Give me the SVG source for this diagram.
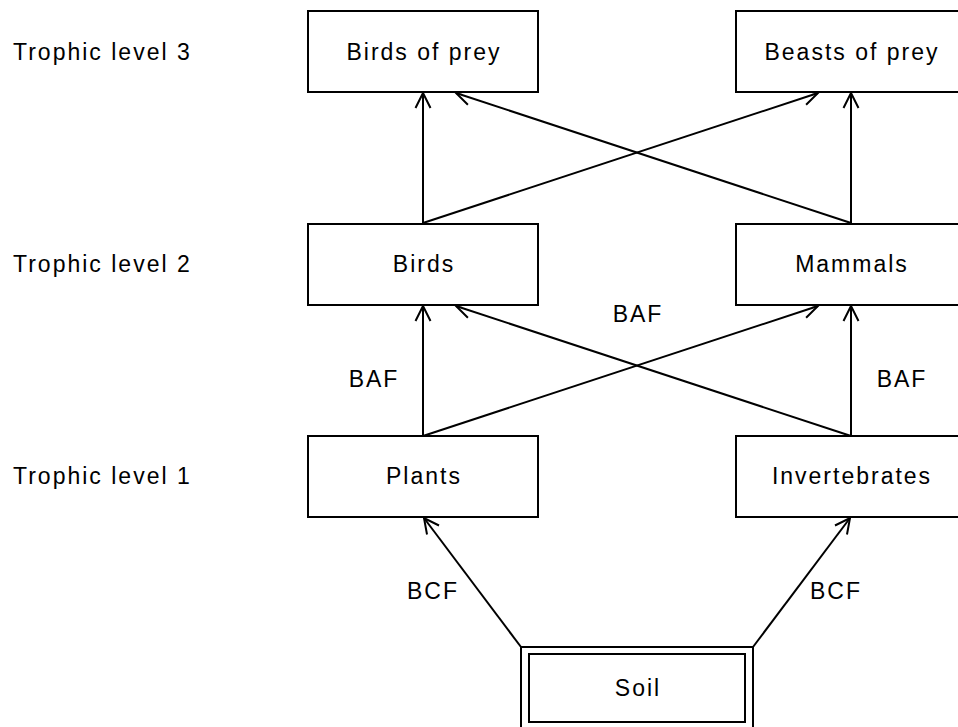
<svg xmlns="http://www.w3.org/2000/svg" width="958" height="727" viewBox="0 0 958 727">
<style>
text{font-family:"Liberation Sans",Arial,sans-serif;font-size:23px;letter-spacing:2px;fill:#000}
.c{text-anchor:middle}
.box{fill:#fff;stroke:#000;stroke-width:2}
.ln{stroke:#000;stroke-width:2;fill:none;marker-end:url(#ah)}
</style>
<defs>
<marker id="ah" markerUnits="userSpaceOnUse" markerWidth="20" markerHeight="20" viewBox="-16 -10 20 20" refX="0" refY="0" orient="auto">
<path d="M-15,-7.5 L0,0 L-15,7.5" fill="none" stroke="#000" stroke-width="2"/>
</marker>
</defs>
<rect width="958" height="727" fill="#fff"/>
<g id="levels">
<text x="13" y="60">Trophic level 3</text>
<text x="13" y="272">Trophic level 2</text>
<text x="13" y="484">Trophic level 1</text>
</g>
<g id="connectors">
<line class="ln" x1="423" y1="223" x2="423" y2="93"/>
<line class="ln" x1="423" y1="223" x2="818" y2="93"/>
<line class="ln" x1="851" y1="223" x2="456" y2="93"/>
<line class="ln" x1="851" y1="223" x2="851" y2="93"/>
<line class="ln" x1="423" y1="436" x2="423" y2="306"/>
<line class="ln" x1="423" y1="436" x2="818" y2="306"/>
<line class="ln" x1="851" y1="436" x2="456" y2="306"/>
<line class="ln" x1="851" y1="436" x2="851" y2="306"/>
<line class="ln" x1="521" y1="647" x2="424" y2="518"/>
<line class="ln" x1="753" y1="647" x2="850" y2="518"/>
<text class="c" x="374" y="387">BAF</text>
<text class="c" x="638" y="322">BAF</text>
<text class="c" x="902" y="387">BAF</text>
<text class="c" x="433" y="599">BCF</text>
<text class="c" x="836" y="599">BCF</text>
</g>
<g id="birds-of-prey">
<rect class="box" x="308" y="11" width="230" height="81"/>
<text class="c" x="424" y="60">Birds of prey</text>
</g>
<g id="beasts-of-prey">
<rect class="box" x="736" y="11" width="230" height="81"/>
<text class="c" x="852" y="60">Beasts of prey</text>
</g>
<g id="birds">
<rect class="box" x="308" y="224" width="230" height="81"/>
<text class="c" x="424" y="272">Birds</text>
</g>
<g id="mammals">
<rect class="box" x="736" y="224" width="230" height="81"/>
<text class="c" x="852" y="272">Mammals</text>
</g>
<g id="plants">
<rect class="box" x="308" y="436" width="230" height="81"/>
<text class="c" x="424" y="484">Plants</text>
</g>
<g id="invertebrates">
<rect class="box" x="736" y="436" width="230" height="81"/>
<text class="c" x="852" y="484">Invertebrates</text>
</g>
<g id="soil">
<rect class="box" x="521" y="647" width="232" height="90"/>
<rect class="box" x="529" y="654" width="216" height="68"/>
<text class="c" x="638" y="696">Soil</text>
</g>
</svg>
